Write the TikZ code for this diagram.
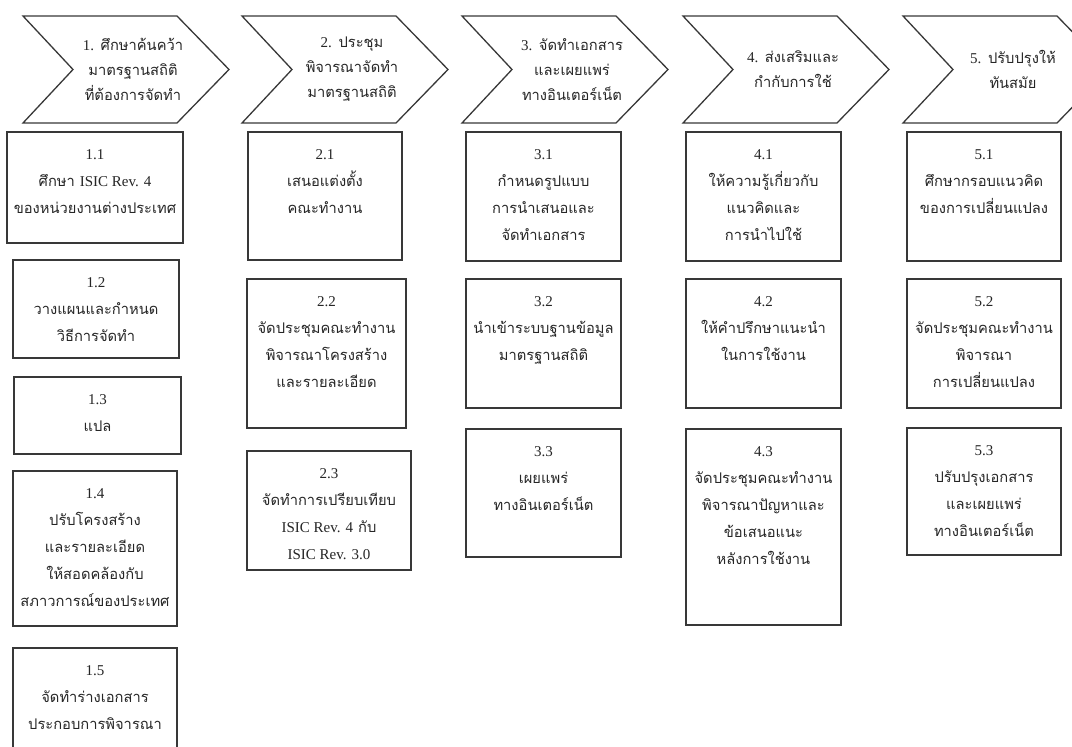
\documentclass[tikz,border=0pt]{standalone}
\usepackage{fontspec}
\setmainfont{Liberation Serif}
\newfontfamily\thaifnt[Script=Thai]{Loma}
\newcommand\latn[1]{{\rmfamily\fontsize{15}{27}\selectfont #1}}
\tikzset{
  lineclr/.style={draw=black!78, line width=1.3pt, line join=miter},
  stepbox/.style={lineclr, rectangle, inner sep=0pt, fill=white},
  boxtext/.style={align=center, anchor=north, inner sep=0pt, text=black!85,
    font=\fontsize{14.7}{27}\selectfont\thaifnt},
  chevtext/.style={align=center, inner sep=0pt, text=black!85,
    font=\fontsize{14.7}{25}\selectfont\thaifnt},
}
% box: name, x1, y1, x2, y2, text
\newcommand\bx[6]{%
  \node[stepbox, minimum width={#4-#2}, minimum height={#5-#3}] (#1) at ({(#2+#4)/2},{(#3+#5)/2}) {};
  \node[boxtext] (#1t) at ([yshift=-18pt]#1.north) {#6};}
% chevron: name, left x, text
\newcommand\chev[3]{%
  \coordinate (#1a) at (#2,16);
  \coordinate (#1b) at ({#2+154},16);
  \coordinate (#1c) at ({#2+206},69.5);
  \coordinate (#1d) at ({#2+154},123);
  \coordinate (#1e) at (#2,123);
  \coordinate (#1f) at ({#2+50},69.5);
  \draw[lineclr] (#1a) -- (#1b) -- (#1c) -- (#1d) -- (#1e) -- (#1f) -- cycle;
  \node[chevtext] (#1t) at ({#2+110},69.5) {#3};}
\begin{document}
\begin{tikzpicture}[x=1pt,y=-1pt]
\useasboundingbox (0,0) rectangle (1072,747);
\clip (0,0) rectangle (1072,747);
\fill[white] (0,0) rectangle (1072,747);
% chevrons
\chev{c1}{23}{\latn{1.} ศึกษาค้นคว้า\\มาตรฐานสถิติ\\ที่ต้องการจัดทำ}
\chev{c2}{242}{\latn{2.} ประชุม\\พิจารณาจัดทำ\\มาตรฐานสถิติ}
\chev{c3}{462}{\latn{3.} จัดทำเอกสาร\\และเผยแพร่\\ทางอินเตอร์เน็ต}
\chev{c4}{683}{\latn{4.} ส่งเสริมและ\\กำกับการใช้}
\chev{c5}{903}{\latn{5.} ปรับปรุงให้\\ทันสมัย}
% column 1
\bx{b11}{7}{132}{183}{243}{\latn{1.1}\\ศึกษา \latn{ISIC Rev. 4}\\ของหน่วยงานต่างประเทศ}
\bx{b12}{13}{260}{179}{358}{\latn{1.2}\\วางแผนและกำหนด\\วิธีการจัดทำ}
\bx{b13}{14}{377}{181}{454}{\latn{1.3}\\แปล}
\bx{b14}{13}{471}{177}{626}{\latn{1.4}\\ปรับโครงสร้าง\\และรายละเอียด\\ให้สอดคล้องกับ\\สภาวการณ์ของประเทศ}
\bx{b15}{13}{648}{177}{770}{\latn{1.5}\\จัดทำร่างเอกสาร\\ประกอบการพิจารณา}
% column 2
\bx{b21}{248}{132}{402}{260}{\latn{2.1}\\เสนอแต่งตั้ง\\คณะทำงาน}
\bx{b22}{247}{279}{406}{428}{\latn{2.2}\\จัดประชุมคณะทำงาน\\พิจารณาโครงสร้าง\\และรายละเอียด}
\bx{b23}{247}{451}{411}{570}{\latn{2.3}\\จัดทำการเปรียบเทียบ\\\latn{ISIC Rev. 4} กับ\\\latn{ISIC Rev. 3.0}}
% column 3
\bx{b31}{466}{132}{621}{261}{\latn{3.1}\\กำหนดรูปแบบ\\การนำเสนอและ\\จัดทำเอกสาร}
\bx{b32}{466}{279}{621}{408}{\latn{3.2}\\นำเข้าระบบฐานข้อมูล\\มาตรฐานสถิติ}
\bx{b33}{466}{429}{621}{557}{\latn{3.3}\\เผยแพร่\\ทางอินเตอร์เน็ต}
% column 4
\bx{b41}{686}{132}{841}{261}{\latn{4.1}\\ให้ความรู้เกี่ยวกับ\\แนวคิดและ\\การนำไปใช้}
\bx{b42}{686}{279}{841}{408}{\latn{4.2}\\ให้คำปรึกษาแนะนำ\\ในการใช้งาน}
\bx{b43}{686}{429}{841}{625}{\latn{4.3}\\จัดประชุมคณะทำงาน\\พิจารณาปัญหาและ\\ข้อเสนอแนะ\\หลังการใช้งาน}
% column 5
\bx{b51}{907}{132}{1061}{261}{\latn{5.1}\\ศึกษากรอบแนวคิด\\ของการเปลี่ยนแปลง}
\bx{b52}{907}{279}{1061}{408}{\latn{5.2}\\จัดประชุมคณะทำงาน\\พิจารณา\\การเปลี่ยนแปลง}
\bx{b53}{907}{428}{1061}{555}{\latn{5.3}\\ปรับปรุงเอกสาร\\และเผยแพร่\\ทางอินเตอร์เน็ต}
\end{tikzpicture}
\end{document}
